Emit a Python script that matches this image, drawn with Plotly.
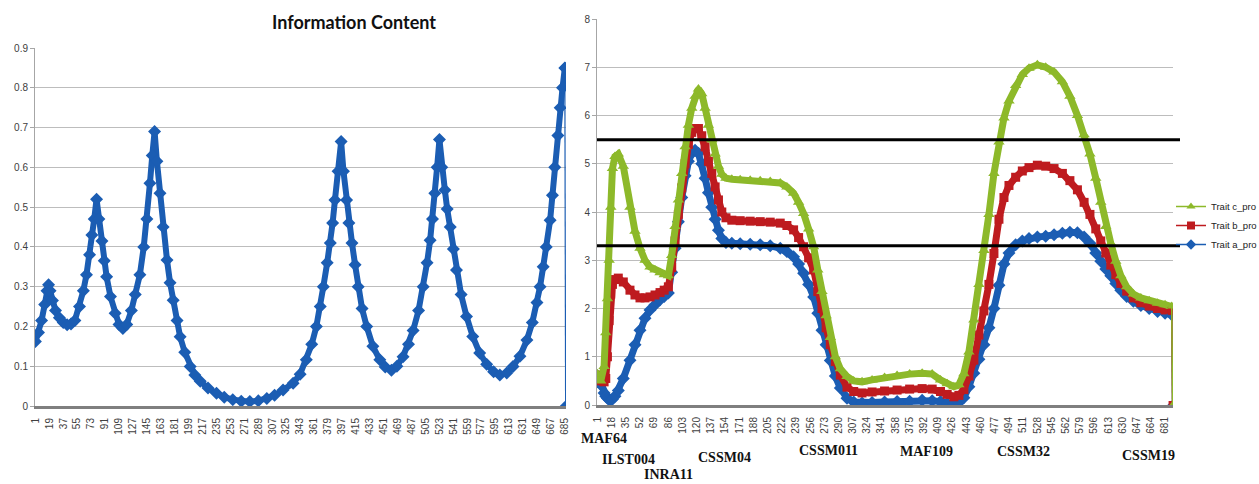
import plotly.graph_objects as go

# ---------------- data ----------------
left_x = [1, 5, 9, 13, 16, 18, 20, 23, 27, 32, 37, 42, 47, 52, 58, 63, 67, 71, 74, 77, 80,
          83, 87, 90, 93, 98, 104, 109, 114, 119, 125, 130, 136, 141, 145, 149, 152, 155,
          158, 162, 166, 171, 175, 179, 184, 188, 194, 201, 207, 214, 224, 235, 245, 256,
          267, 278, 289, 300, 310, 321, 334, 343, 351, 358, 364, 369, 373, 378, 382, 385,
          388, 392, 396, 399, 403, 406, 410, 414, 418, 423, 429, 437, 446, 453, 461, 468,
          476, 483, 489, 496, 502, 507, 511, 514, 517, 520, 523, 526, 530, 533, 537, 541,
          545, 551, 558, 566, 575, 584, 593, 601, 610, 618, 627, 636, 643, 649, 653, 657,
          661, 666, 669, 672, 676, 679, 682, 685, 686]
info_content = [0.162, 0.185, 0.215, 0.255, 0.29, 0.305, 0.29, 0.265, 0.24, 0.222, 0.21, 0.204,
                0.206, 0.215, 0.25, 0.29, 0.33, 0.38, 0.43, 0.47, 0.52,
                0.47, 0.415, 0.365, 0.325, 0.275, 0.233, 0.205, 0.195, 0.205, 0.24, 0.28,
                0.33, 0.4, 0.47, 0.56, 0.63, 0.69,
                0.615, 0.535, 0.45, 0.367, 0.31, 0.266, 0.215, 0.174, 0.135, 0.099, 0.078,
                0.062, 0.045, 0.032, 0.022, 0.016,
                0.012, 0.011, 0.013, 0.019, 0.027, 0.04, 0.057, 0.08, 0.116, 0.155, 0.2,
                0.25, 0.3, 0.36, 0.41, 0.46,
                0.518, 0.59, 0.665, 0.59, 0.518, 0.46, 0.41, 0.355, 0.3, 0.245, 0.2, 0.15,
                0.116, 0.098, 0.09, 0.1,
                0.124, 0.155, 0.19, 0.24, 0.3, 0.36, 0.417, 0.47, 0.535, 0.6, 0.67, 0.6,
                0.543, 0.495, 0.45, 0.395,
                0.342, 0.28, 0.225, 0.175, 0.133, 0.105, 0.086, 0.078, 0.083, 0.099, 0.125,
                0.166, 0.21, 0.26, 0.3, 0.35,
                0.4, 0.467, 0.53, 0.6, 0.68, 0.75, 0.8, 0.85, 0.0]
left_ticks = [1, 19, 37, 55, 73, 91, 109, 127, 145, 163, 181, 199, 217, 235, 253, 271, 289,
              307, 325, 343, 361, 379, 397, 415, 433, 451, 469, 487, 505, 523, 541, 559, 577,
              595, 613, 631, 649, 667, 685]

right_x = [1, 5, 9, 11, 13, 15, 17, 19, 22, 26, 32, 40, 46, 52, 58, 64, 70, 76, 81, 86, 90,
           94, 98, 102, 106, 110, 114, 118, 122, 126, 130, 134, 138, 142, 146, 150, 155, 162,
           172, 184, 196, 208, 220, 228, 236, 242, 248, 254, 260, 265, 270, 275, 280, 286,
           292, 300, 308, 318, 330, 345, 360, 375, 390, 402, 412, 420, 428, 434, 440, 446,
           452, 458, 464, 470, 476, 482, 488, 494, 502, 510, 518, 528, 538, 548, 558, 567,
           576, 584, 591, 598, 604, 610, 616, 622, 628, 635, 643, 652, 662, 672, 681, 689, 690]
trait_c = [0.65, 0.5, 0.8, 1.5, 2.2, 3.0, 4.1, 4.9, 5.15, 5.2, 4.95, 4.1, 3.6, 3.25, 3.0, 2.86,
           2.8, 2.74, 2.7, 2.68, 3.1,
           3.7, 4.25, 4.8, 5.35, 5.8, 6.15, 6.4, 6.55, 6.45, 6.15, 5.8, 5.5, 5.2, 4.95, 4.78,
           4.7, 4.68,
           4.67, 4.66, 4.65, 4.63, 4.6, 4.52, 4.39, 4.2, 3.97, 3.65, 3.28, 2.8, 2.35, 1.85,
           1.4, 1.0,
           0.75, 0.59, 0.5, 0.48, 0.52, 0.57, 0.61, 0.64, 0.66, 0.64, 0.52, 0.44, 0.38, 0.42,
           0.65, 1.1,
           1.76, 2.5, 3.2, 3.95, 4.8, 5.45, 5.95, 6.3, 6.62, 6.85, 6.98, 7.05, 7.0, 6.9, 6.7,
           6.4,
           6.0, 5.6, 5.2, 4.7, 4.2, 3.7, 3.35, 2.98, 2.68, 2.45, 2.3, 2.22, 2.16, 2.11, 2.08,
           2.04, 0.0]
trait_b = [0.62, 0.5, 0.48, 0.55, 1.0, 1.75, 2.3, 2.5, 2.6, 2.63, 2.55, 2.38, 2.28, 2.22, 2.22,
           2.24, 2.28, 2.33, 2.38, 2.45, 2.85,
           3.4, 3.95, 4.5, 5.0, 5.4, 5.65, 5.73, 5.73, 5.58, 5.35, 5.05, 4.8, 4.52, 4.25, 4.0,
           3.88, 3.83,
           3.82, 3.81, 3.8, 3.79, 3.77, 3.72, 3.63, 3.47, 3.28, 3.05, 2.8, 2.35, 2.0, 1.6,
           1.25, 0.9,
           0.62, 0.37, 0.28, 0.25, 0.27, 0.29, 0.31, 0.33, 0.34, 0.33, 0.28, 0.22, 0.17, 0.2,
           0.32, 0.6,
           0.93, 1.45, 1.95, 2.5, 3.14, 3.85, 4.3, 4.55, 4.72, 4.85, 4.92, 4.97, 4.95, 4.9,
           4.8, 4.65,
           4.46, 4.2, 3.95, 3.65, 3.4, 3.15, 2.9, 2.7, 2.52, 2.36, 2.22, 2.12, 2.05, 2.0, 1.97,
           1.95, 0.0]
trait_a = [0.6, 0.42, 0.25, 0.18, 0.14, 0.11, 0.1, 0.12, 0.18, 0.3, 0.55, 0.93, 1.25, 1.55, 1.8,
           1.97, 2.08, 2.18, 2.25, 2.32, 2.75,
           3.25, 3.8, 4.3, 4.75, 5.05, 5.22, 5.28, 5.22, 5.0, 4.7, 4.4, 4.1, 3.85, 3.62, 3.45,
           3.37, 3.35,
           3.34, 3.33, 3.32, 3.3, 3.25, 3.18, 3.07, 2.92, 2.73, 2.5, 2.24, 1.9, 1.55, 1.25,
           0.92, 0.6,
           0.35, 0.14, 0.06, 0.04, 0.05, 0.06, 0.07, 0.08, 0.1, 0.09, 0.07, 0.03, 0.01, 0.05,
           0.15, 0.38,
           0.66, 0.95, 1.25, 1.6, 2.0, 2.48, 2.92, 3.15, 3.32, 3.4, 3.45, 3.48, 3.5, 3.53,
           3.56, 3.58,
           3.57, 3.48, 3.35, 3.15, 2.98, 2.82, 2.68, 2.52, 2.38, 2.25, 2.15, 2.06, 2.0, 1.94,
           1.9, 1.87, 0.0]
right_ticks = [1, 18, 35, 52, 69, 86, 103, 120, 137, 154, 171, 188, 205, 222, 239, 256, 273,
               290, 307, 324, 341, 358, 375, 392, 409, 426, 443, 460, 477, 494, 511, 528, 545,
               562, 579, 596, 613, 630, 647, 664, 681]
series_names = ["Trait a_pro", "Trait b_pro", "Trait c_pro"]
thresholds = [5.5, 3.3]
marker_names = ["MAF64", "ILST004", "INRA11", "CSSM04", "CSSM011", "MAF109", "CSSM32", "CSSM19"]

# ---------------- styling / layout helpers ----------------
W, H = 1259, 484
BLUE, RED, GREEN = "#1B5DB3", "#BE1B1F", "#8DB92A"
GRID = "#BDBDBD"


def px_x(p):
    return p / W


def px_y(p):
    return 1 - p / H


fig = go.Figure()

# Left chart: information content
fig.add_trace(go.Scatter(
    x=left_x[:-1], y=info_content[:-1], mode="lines+markers", xaxis="x", yaxis="y",
    line=dict(color=BLUE, width=6),
    marker=dict(symbol="diamond", size=10, color=BLUE, line=dict(width=0)),
    showlegend=False))
fig.add_trace(go.Scatter(
    x=left_x[-2:], y=info_content[-2:], mode="lines+markers", xaxis="x", yaxis="y",
    line=dict(color=BLUE, width=1.2),
    marker=dict(symbol="diamond", size=9, color=BLUE, line=dict(width=0)),
    showlegend=False))

# Right chart: trait profiles
styles = [(trait_a, BLUE, "diamond", 10), (trait_b, RED, "square", 9),
          (trait_c, GREEN, "triangle-up", 10)]
for (vals, col, sym, sz), name in zip(styles, series_names):
    fig.add_trace(go.Scatter(
        x=right_x[:-1], y=vals[:-1], mode="lines+markers", xaxis="x2", yaxis="y2",
        line=dict(color=col, width=7),
        marker=dict(symbol=sym, size=sz, color=col, line=dict(width=0)),
        showlegend=False, name=name))
for (vals, col, sym, sz), name in zip(styles, series_names):
    fig.add_trace(go.Scatter(
        x=right_x[-2:], y=vals[-2:], mode="lines+markers", xaxis="x2", yaxis="y2",
        line=dict(color=col, width=1.5),
        marker=dict(symbol=sym, size=8, color=col, line=dict(width=0)),
        showlegend=True, name=name))

tickfont = dict(family="Liberation Sans", size=10, color="#404040")

xcommon = dict(tickangle=-90, tickfont=tickfont, showgrid=False, zeroline=False,
               showline=True, linecolor="#7F7F7F", linewidth=3, ticks="",
               ticklabelstandoff=5, automargin=False)
ycommon = dict(tickfont=tickfont, showgrid=True, gridcolor=GRID, gridwidth=1.2,
               zeroline=False, showline=True, linecolor="#A6A6A6", linewidth=1,
               ticks="outside", ticklen=4, tickcolor="#A6A6A6", automargin=False)

fig.update_layout(
    width=W, height=H, margin=dict(l=0, r=0, t=0, b=0, pad=0, autoexpand=False),
    paper_bgcolor="white", plot_bgcolor="white",
    xaxis=dict(domain=[px_x(35), px_x(566)], range=[0.5, 686.5], anchor="y",
               tickvals=left_ticks, ticktext=[str(t) for t in left_ticks], **xcommon),
    yaxis=dict(domain=[px_y(406), px_y(48)], range=[0, 0.9], dtick=0.1, anchor="x",
               **ycommon),
    xaxis2=dict(domain=[px_x(597), px_x(1173)], range=[0.5, 690.5], anchor="y2",
                tickvals=right_ticks, ticktext=[str(t) for t in right_ticks], **xcommon),
    yaxis2=dict(domain=[px_y(405), px_y(19)], range=[0, 8], dtick=1, anchor="x2",
                **ycommon),
    legend=dict(x=px_x(1171), y=px_y(192), xanchor="left", yanchor="top",
                traceorder="reversed", font=dict(family="Liberation Sans", size=9.5,
                                                 color="#222222"),
                bgcolor="rgba(0,0,0,0)", itemwidth=30, tracegroupgap=0),
    showlegend=True,
)

# threshold lines
for t in thresholds:
    fig.add_shape(type="line", xref="paper", yref="y2", x0=px_x(597), x1=px_x(1180),
                  y0=t, y1=t, line=dict(color="black", width=3))

# title of left chart
fig.add_annotation(text="<b>Information Content</b>", xref="paper", yref="paper",
                   x=px_x(354), y=px_y(22), xanchor="center", yanchor="middle",
                   showarrow=False, font=dict(family="Lato", size=18, color="#111111"))

# marker labels below right chart
label_pos = [(604, 438), (628, 459), (668, 474), (724, 457), (828, 450), (927, 451),
             (1024, 451), (1148, 455)]
for name, (lx, ly) in zip(marker_names, label_pos):
    fig.add_annotation(text="<b>" + name + "</b>", xref="paper", yref="paper",
                       x=px_x(lx), y=px_y(ly), xanchor="center", yanchor="middle",
                       showarrow=False, borderpad=0,
                       font=dict(family="Liberation Serif", size=14, color="#111111"))

fig.write_html("out.html")
